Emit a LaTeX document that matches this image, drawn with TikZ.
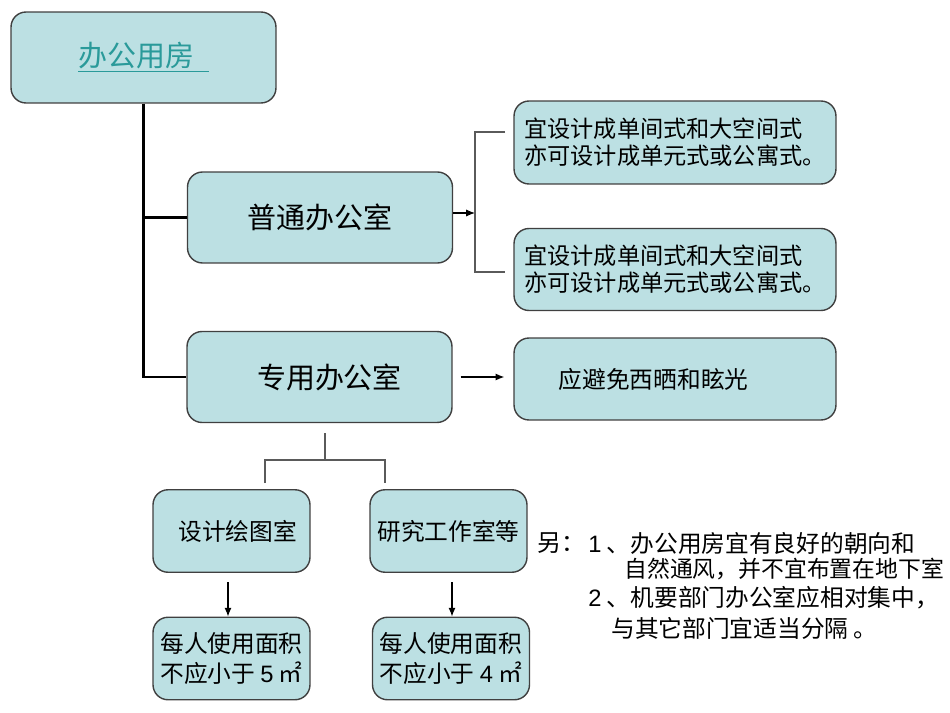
\documentclass[tikz,border=0pt]{standalone}
\usepackage{fontspec}
\setmainfont{Liberation Sans}
\newfontfamily\cjk{Noto Sans CJK SC}
\newfontfamily\numfont{Liberation Sans}
\usepackage{tikz}
\usetikzlibrary{arrows.meta}

\definecolor{boxfill}{HTML}{BCE0E3}
\definecolor{boxline}{HTML}{404040}
\definecolor{linkgray}{HTML}{5A5A5A}
\definecolor{titleteal}{HTML}{2A9A9A}

\tikzset{
	room/.style={rectangle, rounded corners=0.3cm, draw=boxline, line width=0.8pt, fill=boxfill,
		font=\cjk\fontsize{13.2}{15.5}\selectfont, align=left},
	wide/.style={minimum width=5.3cm, minimum height=1.82cm, font=\cjk\fontsize{16.5}{19}\selectfont},
	rule/.style={minimum width=6.44cm, minimum height=1.64cm},
	small/.style={minimum width=3.14cm, minimum height=1.65cm},
	trunk/.style={draw=black, line width=1.7pt},
	link/.style={draw=linkgray, line width=0.6pt}
}

\begin{document}
\begin{tikzpicture}[x=0.02cm, y=-0.02cm, >={Latex[length=5pt,width=4pt]}]
		\useasboundingbox (0,0) rectangle (950,713);
		\begin{scope}[every node/.style={room}]
			\node[wide, text=titleteal] (top) at(143.5,57.5) {\underline{办公用房\hspace{0.5em}}};
			\node[wide] (pt) at(320,217.5) {普通办公室};
			\node[wide] (zy) at(319.5,377) {\hspace*{0.4cm}专用办公室};
			\node[rule, minimum height=1.66cm] (r1) at(675,142.5) {宜设计成单间式和大空间式\\亦可设计成单元式或公寓式。};
			\node[rule] (r2) at(675,269.5) {宜设计成单间式和大空间式\\亦可设计成单元式或公寓式。};
			\node[rule, font=\cjk\fontsize{13.5}{15.5}\selectfont] (r3) at(675,379) {应避免西晒和眩光\hspace{1.8em}};
			\node[small, font=\cjk\fontsize{13.5}{16}\selectfont] (sj) at(231.5,531) {\hspace*{0.25cm}设计绘图室};
			\node[small, font=\cjk\fontsize{13.5}{16}\selectfont] (yj) at(448.5,531) {研究工作室等};
			\node[small, font=\cjk\fontsize{13.5}{17}\selectfont] (m1) at(231.5,658.5) {每人使用面积\\不应小于 {\numfont 5} ㎡};
			\node[small, font=\cjk\fontsize{13.5}{17}\selectfont] (m2) at(451,658.5) {每人使用面积\\不应小于 {\numfont 4} ㎡};
		\end{scope}
		\begin{scope}[every node/.style={anchor=west, inner sep=0pt, font=\cjk\fontsize{13.5}{15}\selectfont}]
			\node (note0) at(537,543) {另：};
			\node (note1) at(588,543) {{\numfont 1} 、办公用房宜有良好的朝向和};
			\node[font=\cjk\fontsize{13}{15}\selectfont] (note2) at(624,569) {自然通风，并不宜布置在地下室};
			\node (note3) at(588,598) {{\numfont 2} 、机要部门办公室应相对集中，};
			\node (note4) at(611,628) {与其它部门宜适当分隔 。};
		\end{scope}
		\coordinate (fork) at(475,213);
		\coordinate (fork1) at(505,132);
		\coordinate (fork2) at(505,272);
		\coordinate (split) at(325,460);
		\coordinate (leg1) at(265,483);
		\coordinate (leg2) at(385,483);
		\coordinate (drop1) at(228,582);
		\coordinate (drop2) at(452,582);
		\path[trunk] (top.south) |- (pt.west) (top.south) |- (zy.west);
		\draw[->, line width=0.6pt] (pt.east |- fork) -- (fork);
		\path[link] (fork1) -| (fork) |- (fork2);
		\draw[->, line width=0.6pt, shorten <=0.16cm, shorten >=0.18cm] (zy.east) -- (zy.east -| r3.west);
		\path[link, shorten <=0.2cm] (zy.south -| split) -- (split);
		\path[link] (leg1) |- (split) -| (leg2);
		\draw[->, line width=0.6pt] (drop1) -- (drop1 |- m1.north);
		\draw[->, line width=0.6pt] (drop2) -- (drop2 |- m2.north);
	\end{tikzpicture}
\end{document}
